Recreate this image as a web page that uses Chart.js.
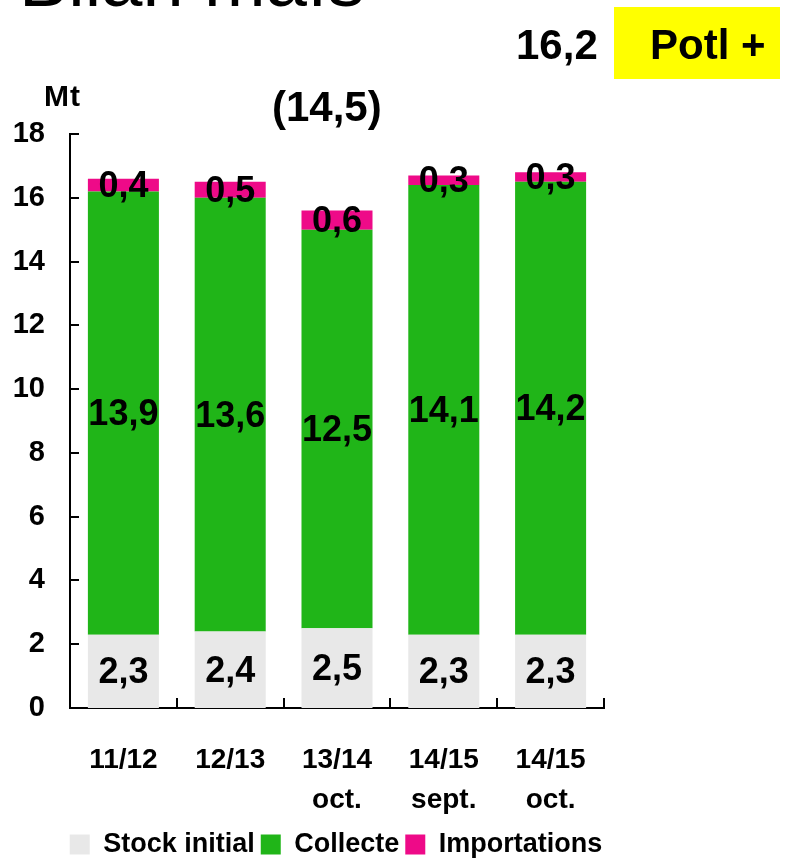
<!DOCTYPE html>
<html>
<head>
<meta charset="utf-8">
<script src="https://cdn.jsdelivr.net/npm/chart.js@4.4.1/dist/chart.umd.min.js"></script>
<style>
  html, body { margin: 0; padding: 0; background: #fff; }
  body { width: 793px; height: 858px; position: relative; overflow: hidden; font-family: "Liberation Sans", Arial, sans-serif; }
  #c { position: absolute; left: 0; top: 0; }
  .t { position: absolute; white-space: nowrap; color: #000; line-height: 1.15; }
  #title { left: 19px; top: -62px; font-size: 74px; }
  #pot { left: 516px; top: 21px; font-size: 42px; font-weight: bold; }
  #box { position: absolute; left: 614px; top: 7px; width: 166px; height: 72px; background: #ffff00; }
  #potl { left: 650px; top: 21px; font-size: 42px; font-weight: bold; }
  #paren { left: 272px; top: 83px; font-size: 42px; font-weight: bold; }
  #mt { left: 44px; top: 79px; font-size: 30px; font-weight: bold; letter-spacing: 1px; }
</style>
</head>
<body>
<canvas id="c" width="793" height="858"></canvas>
<div class="t" id="title">Bilan maïs</div>
<div id="box"></div>
<div class="t" id="pot">16,2</div>
<div class="t" id="potl">Potl +</div>
<div class="t" id="paren">(14,5)</div>
<div class="t" id="mt">Mt</div>
<script>
const categories = [["11/12"], ["12/13"], ["13/14", "oct."], ["14/15", "sept."], ["14/15", "oct."]];
const stockInitial = [2.3, 2.4, 2.5, 2.3, 2.3];
const collecte = [13.9, 13.6, 12.5, 14.1, 14.2];
const importations = [0.4, 0.5, 0.6, 0.3, 0.3];
const yTicks = [0, 2, 4, 6, 8, 10, 12, 14, 16, 18];

const FONT = '"Liberation Sans", Arial, sans-serif';
const fmt = v => v.toFixed(1).replace('.', ',');

const barLabels = {
  id: 'barLabels',
  afterDatasetsDraw(chart) {
    const ctx = chart.ctx;
    ctx.save();
    ctx.font = 'bold 36px ' + FONT;
    ctx.fillStyle = '#000';
    ctx.textAlign = 'center';
    ctx.textBaseline = 'middle';
    chart.data.datasets.forEach((ds, di) => {
      const meta = chart.getDatasetMeta(di);
      meta.data.forEach((bar, i) => {
        const p = bar.getProps(['x', 'y', 'base'], true);
        ctx.fillText(fmt(ds.data[i]), p.x, (p.y + p.base) / 2 + 2);
      });
    });
    ctx.restore();
  }
};

const innerTicks = {
  id: 'innerTicks',
  afterDraw(chart) {
    const ctx = chart.ctx;
    const xs = chart.scales.x, ys = chart.scales.y;
    const area = chart.chartArea;
    ctx.save();
    ctx.strokeStyle = '#000';
    ctx.lineWidth = 2;
    ys.ticks.forEach(t => {
      const p = Math.round(ys.getPixelForValue(t.value));
      ctx.beginPath();
      ctx.moveTo(area.left, p);
      ctx.lineTo(area.left + 9, p);
      ctx.stroke();
    });
    for (let i = 0; i < categories.length; i++) {
      const p = Math.round(xs.getPixelForValue(i + 0.5));
      ctx.beginPath();
      ctx.moveTo(p, area.bottom);
      ctx.lineTo(p, area.bottom - 10);
      ctx.stroke();
    }
    ctx.restore();
  }
};

const legendShift = {
  id: 'legendShift',
  afterLayout(chart) {
    const lg = chart.legend;
    if (lg) { lg.left += 34; lg.right += 34; }
  }
};

new Chart(document.getElementById('c'), {
  type: 'bar',
  data: {
    labels: categories,
    datasets: [
      { label: 'Stock initial', data: stockInitial, backgroundColor: '#e8e8e8' },
      { label: 'Collecte', data: collecte, backgroundColor: '#20b518' },
      { label: 'Importations', data: importations, backgroundColor: '#ee0a88' }
    ]
  },
  options: {
    responsive: false,
    animation: false,
    devicePixelRatio: 1,
    layout: { padding: { left: 0, right: 189, top: 134, bottom: -10 } },
    datasets: { bar: { categoryPercentage: 1, barPercentage: 0.665, borderWidth: 0 } },
    scales: {
      x: {
        stacked: true,
        grid: { display: false, drawTicks: false },
        border: { display: true, color: '#000', width: 2 },
        ticks: { color: '#000', padding: 32, font: { family: FONT, size: 28, weight: 'bold', lineHeight: 1.43 }, maxRotation: 0 },
        afterFit(s) { s.height = 117; }
      },
      y: {
        stacked: true,
        min: 0, max: 18,
        afterBuildTicks(s) { s.ticks = yTicks.map(v => ({ value: v })); },
        grid: { display: false, drawTicks: false },
        border: { display: true, color: '#000', width: 2 },
        ticks: { color: '#000', padding: 25, font: { family: FONT, size: 29, weight: 'bold' } },
        afterFit(s) { s.width = 70; }
      }
    },
    plugins: {
      legend: {
        position: 'bottom',
        labels: { color: '#000', boxWidth: 20, boxHeight: 20, padding: 6, font: { family: FONT, size: 27, weight: 'bold' } }
      },
      title: { display: false },
      tooltip: { enabled: false }
    }
  },
  plugins: [barLabels, innerTicks, legendShift]
});
</script>
</body>
</html>
